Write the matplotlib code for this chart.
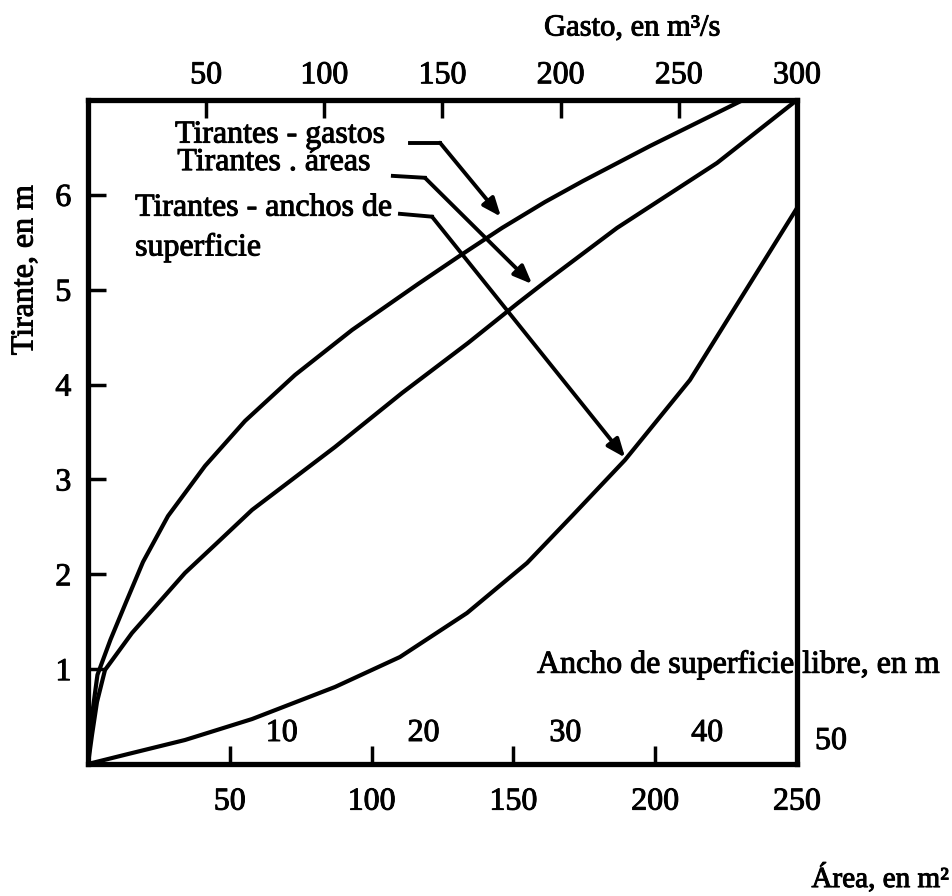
import matplotlib
matplotlib.use("Agg")
import matplotlib.pyplot as plt
import matplotlib.patheffects as pe
from matplotlib.transforms import blended_transform_factory, offset_copy

plt.rcParams['font.family'] = ['Liberation Serif', 'DejaVu Serif']

# ---- data ----
# Tirantes - gastos (depth vs discharge, top axis)
gasto_q = [0, 0.85, 2.0, 4.0, 9.5, 16.0, 23.27, 33.85, 49.51, 66.43, 87.59, 111.71,
           139.64, 156.56, 175.18, 193.37, 209.45, 237.80, 277.16]
gasto_y = [0, 0.253, 0.570, 0.94, 1.31, 1.70, 2.130, 2.614, 3.142, 3.616, 4.101, 4.575,
           5.060, 5.345, 5.651, 5.925, 6.146, 6.515, 7.0]
# Tirantes - areas (depth vs area, bottom axis)
area_a = [0, 1.41, 3.17, 5.99, 15.51, 34.20, 45.84, 57.83, 87.09, 110.72, 133.99,
          151.62, 161.14, 186.53, 221.79, 250]
area_y = [0, 0.306, 0.654, 0.991, 1.381, 2.014, 2.340, 2.678, 3.342, 3.911, 4.438,
          4.860, 5.081, 5.651, 6.336, 7.0]
# Tirantes - anchos de superficie (depth vs surface width, inner axis)
ancho_b = [0, 2.82, 6.84, 11.57, 17.42, 22.00, 26.73, 30.96, 34.20, 37.87, 42.45, 50]
ancho_y = [0, 0.105, 0.253, 0.474, 0.812, 1.128, 1.592, 2.119, 2.625, 3.205, 4.048, 5.861]

area_ticks = [50, 100, 150, 200, 250]
gasto_ticks = [50, 100, 150, 200, 250, 300]
ancho_ticks = [10, 20, 30, 40]
ancho_labels = ['10', '20', '30', '40', '50']
depth_ticks = [1, 2, 3, 4, 5, 6]

W, H = 953, 896
fig = plt.figure(figsize=(W / 100, H / 100), dpi=100)
L, R, B, T = 88, 797, 764, 100
ax = fig.add_axes([L / W, 1 - B / H, (R - L) / W, (B - T) / H])

TFS = 23
LW = 3.0
SPW = 3.8
STROKE = [pe.withStroke(linewidth=0.7, foreground='black')]

ax.plot(area_a, area_y, color='black', lw=LW, solid_capstyle='round', solid_joinstyle='round')
ax.set_xlim(0, 250)
ax.set_ylim(0, 7)
ax.set_xticks(area_ticks)
ax.set_xticklabels([str(v) for v in area_ticks])
ax.set_yticks(depth_ticks)
ax.tick_params(axis='x', length=0, pad=17, labelsize=TFS)
ax.tick_params(axis='y', direction='in', length=13, width=2.5, pad=12, labelsize=TFS)
for s in ax.spines.values():
    s.set_linewidth(SPW)

ax_top = ax.twiny()
ax_top.plot(gasto_q, gasto_y, color='black', lw=LW, solid_capstyle='round', solid_joinstyle='round')
ax_top.set_xlim(0, 300)
ax_top.set_xticks(gasto_ticks)
ax_top.tick_params(axis='x', direction='in', length=13, width=2.5, pad=7, labelsize=TFS)
for s in ax_top.spines.values():
    s.set_visible(False)

ax_w = ax.twiny()
ax_w.plot(ancho_b, ancho_y, color='black', lw=LW, solid_capstyle='round', solid_joinstyle='round')
ax_w.set_xlim(0, 50)
ax_w.xaxis.set_ticks_position('bottom')
ax_w.set_xticks(ancho_ticks)
ax_w.set_xticklabels([])
ax_w.tick_params(axis='x', direction='in', length=13, width=2.5)
for s in ax_w.spines.values():
    s.set_visible(False)

for lab in ax.get_xticklabels() + ax.get_yticklabels() + ax_top.get_xticklabels():
    lab.set_path_effects(STROKE)

# inner width labels, right of each tick just above the bottom line
trans = blended_transform_factory(ax_w.transData, ax.transAxes)
for v, lab in zip(ancho_ticks + [50], ancho_labels):
    dx, dy = (36, 16) if v < 50 else (18, 8)
    t = offset_copy(trans, fig=fig, x=dx, y=dy, units='dots')
    ax.text(v, 0, lab, transform=t, ha='left', va='bottom', fontsize=TFS, path_effects=STROKE)

# curve labels with leader arrows (in area/depth coordinates)
LFS = 23
for x, y, s in [(30.7, 6.63, 'Tirantes - gastos'), (31.5, 6.34, 'Tirantes . áreas'),
                (16.6, 5.86, 'Tirantes - anchos de'), (16.6, 5.44, 'superficie')]:
    ax.text(x, y, s, fontsize=LFS, va='center', ha='left', path_effects=STROKE)

leaders = [
    ((113.5, 6.55), (124.1, 6.55), (145.6, 5.77)),
    ((107.5, 6.20), (118.8, 6.18), (156.6, 5.06)),
    ((110.0, 5.80), (121.3, 5.77), (189.4, 3.23)),
]
for p0, p1, p2 in leaders:
    ax.plot([p0[0], p1[0]], [p0[1], p1[1]], color='black', lw=2.8)
    ax.annotate('', xy=p2, xytext=p1,
                arrowprops=dict(arrowstyle='-|>,head_length=1.1,head_width=0.45',
                                color='black', lw=2.8, shrinkA=0, shrinkB=0))

fig.text(632 / W, 1 - 28 / H, 'Gasto, en m³/s', fontsize=22, ha='center', va='center', path_effects=STROKE)
fig.text(25 / W, 1 - 270 / H, 'Tirante, en m', fontsize=23, ha='center', va='center', rotation=90, path_effects=STROKE)
fig.text(880 / W, 1 - 878 / H, 'Área, en m²', fontsize=21, ha='center', va='center', path_effects=STROKE)
fig.text(537 / W, 1 - 665 / H, 'Ancho de superficie libre, en m', fontsize=23, ha='left', va='center', path_effects=STROKE)

fig.savefig('out.png', dpi=100)
